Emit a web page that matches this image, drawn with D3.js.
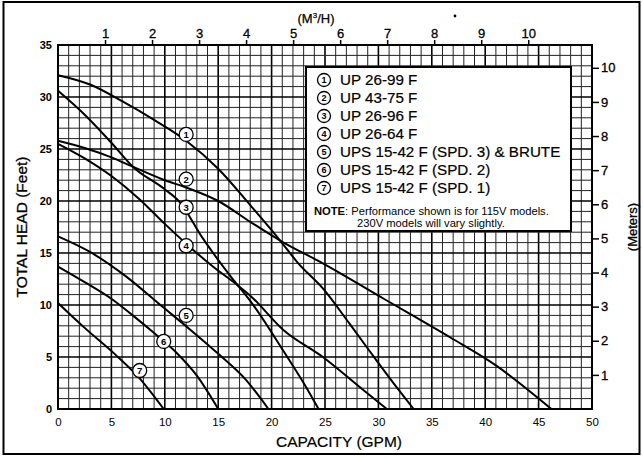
<!DOCTYPE html>
<html><head><meta charset="utf-8">
<script src="https://cdn.jsdelivr.net/npm/d3@7"></script>
<style>
html,body{margin:0;padding:0;background:#fff;}
svg text{font-family:"Liberation Sans",Arial,Helvetica,sans-serif;fill:#000;}
</style></head>
<body>
<svg id="c" width="643" height="458"></svg>
<script>
// ---- data (GPM, feet) ----
const curve1 = [[0,32.1],[3,31.2],[6,29.6],[9,27.8],[12,25.8],[15,23.1],[18,19.6],[20.8,16.2],[22.5,14.0],[24.8,11.6],[27.3,8.2],[29.8,4.7],[31.7,2.1],[33.3,0]];
const curve2 = [[0,25.8],[2.5,25.1],[5,24.2],[7,23.3],[10,22.0],[12,21.3],[15,20.0],[18,18.0],[20.8,16.2],[24.8,14.0],[30.5,10.6],[36.7,6.9],[41,4.2],[46.2,0]];
const curve3 = [[0,30.6],[2.5,28.3],[5,25.6],[7,23.3],[9.9,21.2],[11.4,19.9],[13.5,16.5],[16.2,12.7],[18,10.4],[21.1,5.6],[23,2.5],[24.4,0]];
const curve4 = [[0,25.5],[2.5,24.1],[5,22.4],[7.6,20.2],[10,17.8],[12,15.9],[14.5,13.7],[16.7,12.0],[18,10.9],[21.1,7.6],[24.8,5.0],[28.5,1.9],[30.8,0]];
const curve5 = [[0,16.6],[3,15.1],[6.3,12.8],[9.7,9.9],[12.3,7.7],[14.9,5.4],[17.6,2.8],[19.7,0]];
const curve6 = [[0,13.7],[2.5,12.2],[5,10.6],[7,9.0],[9,7.3],[11,5.5],[13,3.2],[15,0]];
const curve7 = [[0,10.2],[2.5,7.8],[5.3,5.3],[7.6,3.0],[9.9,0]];
const curves = [curve1,curve2,curve3,curve4,curve5,curve6,curve7];
const curveIds = ["1","2","3","4","5","6","7"];
const curveLabelPos = [[12,26.4],[12,22.1],[12,19.4],[12,15.7],[12,9.0],[9.9,6.5],[7.65,3.7]];
const legendNames = ["UP 26-99 F","UP 43-75 F","UP 26-96 F","UP 26-64 F","UPS 15-42 F (SPD. 3) & BRUTE","UPS 15-42 F (SPD. 2)","UPS 15-42 F (SPD. 1)"];
const noteLines = ["Performance shown is for 115V models.","230V models will vary slightly."];
const gpmTicks = [0,5,10,15,20,25,30,35,40,45,50];
const feetTicks = [0,5,10,15,20,25,30,35];
const m3hTicks = [1,2,3,4,5,6,7,8,9,10];
const meterTicks = [1,2,3,4,5,6,7,8,9,10];
const GPM_PER_M3H = 4.4029;
const FT_PER_M = 3.2808;

// ---- layout ----
const svg = d3.select("#c");
const L=58, R=592, T=45, B=409;
const x = d3.scaleLinear().domain([0,50]).range([L,R]);
const y = d3.scaleLinear().domain([0,35]).range([B,T]);
const xm = d3.scaleLinear().domain([0,50/GPM_PER_M3H]).range([L,R]);
const ym = d3.scaleLinear().domain([0,35/FT_PER_M]).range([B,T]);

svg.append("rect").attr("width",643).attr("height",458).attr("fill","#fff");
svg.append("rect").attr("x",3.5).attr("y",2).attr("width",636).attr("height",452)
  .attr("fill","none").attr("stroke","#000").attr("stroke-width",2);

// grid
const g = svg.append("g");
d3.range(0,51).forEach(i=>{
  g.append("line").attr("x1",x(i)).attr("x2",x(i)).attr("y1",T).attr("y2",B)
   .attr("stroke",i%5===0?"#000":"#222").attr("stroke-width",i%5===0?1.6:1);
});
d3.range(0,36).forEach(i=>{
  g.append("line").attr("y1",y(i)).attr("y2",y(i)).attr("x1",L).attr("x2",R)
   .attr("stroke",i%5===0?"#000":"#222").attr("stroke-width",i%5===0?1.6:1);
});
svg.append("rect").attr("x",L).attr("y",T).attr("width",R-L).attr("height",B-T)
  .attr("fill","none").attr("stroke","#000").attr("stroke-width",2);

// axes
const axB = svg.append("g").attr("transform",`translate(0,${B})`)
  .call(d3.axisBottom(x).tickValues(gpmTicks).tickSize(0).tickPadding(9));
axB.select(".domain").remove();
axB.selectAll("text").attr("font-size",11.5).attr("font-family","Liberation Sans");

const axL = svg.append("g").attr("transform",`translate(${L},0)`)
  .call(d3.axisLeft(y).tickValues(feetTicks).tickSize(0).tickPadding(6));
axL.select(".domain").remove();
axL.selectAll("text").attr("font-size",11).attr("font-weight","bold").attr("font-family","Liberation Sans");

const axT = svg.append("g").attr("transform",`translate(0,${T})`)
  .call(d3.axisTop(xm).tickValues(m3hTicks).tickSize(5).tickPadding(2));
axT.select(".domain").remove();
axT.selectAll("line").attr("stroke","#000").attr("stroke-width",1.5);
axT.selectAll("text").attr("font-size",13).attr("font-family","Liberation Sans").attr("stroke","#000").attr("stroke-width",0.3);

const axR = svg.append("g").attr("transform",`translate(${R},0)`)
  .call(d3.axisRight(ym).tickValues(meterTicks).tickSize(7).tickPadding(2));
axR.select(".domain").remove();
axR.selectAll("line").attr("stroke","#000").attr("stroke-width",1.5);
axR.selectAll("text").attr("font-size",13).attr("font-family","Liberation Sans").attr("stroke","#000").attr("stroke-width",0.3);

// titles
const mt = svg.append("text").attr("x",316).attr("y",23).attr("text-anchor","middle").attr("font-size",13).attr("stroke","#000").attr("stroke-width",0.25);
mt.append("tspan").text("(M");
mt.append("tspan").attr("font-size",8).attr("dy",-5).text("3");
mt.append("tspan").attr("dy",5).text("/H)");
svg.append("text").attr("x",339).attr("y",447).attr("text-anchor","middle").attr("font-size",15.5).attr("stroke","#000").attr("stroke-width",0.2).text("CAPACITY (GPM)");
svg.append("text").attr("transform","translate(27,227) rotate(-90)").attr("text-anchor","middle").attr("font-size",15.5).attr("stroke","#000").attr("stroke-width",0.3).text("TOTAL HEAD (Feet)");
svg.append("text").attr("transform","translate(637,227) rotate(-90)").attr("text-anchor","middle").attr("font-size",13).attr("stroke","#000").attr("stroke-width",0.3).text("(Meters)");
svg.append("circle").attr("cx",455).attr("cy",16).attr("r",1.4).attr("fill","#000");

// legend
const lg = svg.append("g");
lg.append("rect").attr("x",306).attr("y",67).attr("width",265).attr("height",164)
  .attr("fill","#fff").attr("stroke","#000").attr("stroke-width",2);
legendNames.forEach((n,i)=>{
  const cy = 80 + i*18;
  lg.append("circle").attr("cx",324).attr("cy",cy).attr("r",6.5).attr("fill","#fff").attr("stroke","#000").attr("stroke-width",1.3);
  lg.append("text").attr("x",324).attr("y",cy+3.3).attr("text-anchor","middle").attr("font-size",9).attr("font-weight","bold").text(curveIds[i]);
  lg.append("text").attr("x",340).attr("y",cy+5.3).attr("font-size",15.2).attr("stroke","#000").attr("stroke-width",0.2).text(n);
});
const nt = lg.append("text").attr("x",314).attr("y",214.5).attr("font-size",11.2);
nt.append("tspan").attr("font-weight","bold").text("NOTE");
nt.append("tspan").text(":  " + noteLines[0]);
lg.append("text").attr("x",357).attr("y",226.5).attr("font-size",11.2).text(noteLines[1]);

// curves
const line = d3.line().x(d=>x(d[0])).y(d=>y(d[1])).curve(d3.curveMonotoneX);
curves.forEach(c=>{
  svg.append("path").attr("d",line(c)).attr("fill","none").attr("stroke","#000").attr("stroke-width",2);
});
// curve number markers
curveLabelPos.forEach((p,i)=>{
  svg.append("circle").attr("cx",x(p[0])).attr("cy",y(p[1])).attr("r",7).attr("fill","#fff").attr("stroke","#000").attr("stroke-width",1.3);
  svg.append("text").attr("x",x(p[0])).attr("y",y(p[1])+3.4).attr("text-anchor","middle").attr("font-size",9.5).attr("font-weight","bold").text(curveIds[i]);
});
</script>
</body></html>
